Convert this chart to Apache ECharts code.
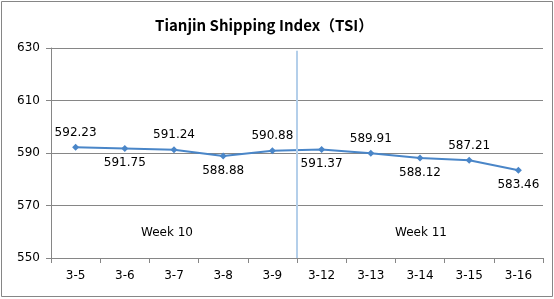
<!DOCTYPE html>
<html><head><meta charset="utf-8">
<script src="https://cdn.jsdelivr.net/npm/echarts@6/dist/echarts.min.js"></script>
<style>html,body{margin:0;padding:0;background:#fff}#c{width:554px;height:299px}</style>
</head><body><div id="c"></div>
<script>
const categories = ['3-5','3-6','3-7','3-8','3-9','3-12','3-13','3-14','3-15','3-16'];
const tsiValues = [592.23, 591.75, 591.24, 588.88, 590.88, 591.37, 589.91, 588.12, 587.21, 583.46];
const yTicks = [550, 570, 590, 610, 630];
const weekLabels = ['Week 10', 'Week 11'];
const weekDivider = 5; // boundary index between week 10 and week 11
const titleText = 'Tianjin Shipping Index（TSI）';

const chart = echarts.init(document.getElementById('c'));
const font = 'DejaVu Sans';
chart.setOption({
  animation: false,
  title: { text: titleText, left: 150, top: 13,
    textStyle: { fontFamily: 'Noto Sans CJK SC', fontWeight: 'bold', fontSize: 15, color: '#000' } },
  grid: { left: 51, right: 11, top: 48, bottom: 41 },
  xAxis: [{ type: 'category', data: categories, boundaryGap: true,
    axisLine: { lineStyle: { color: '#868686', width: 1 } },
    axisTick: { show: true, length: 5, lineStyle: { color: '#868686' } },
    axisLabel: { fontFamily: font, fontSize: 12, color: '#000', margin: 12 } },
    { type: 'value', min: 0, max: categories.length, show: false }],
  yAxis: { type: 'value', min: yTicks[0], max: yTicks[yTicks.length-1], interval: 20,
    axisLine: { show: true, lineStyle: { color: '#868686' } },
    axisTick: { show: true, length: 5, lineStyle: { color: '#868686' } },
    splitLine: { lineStyle: { color: '#868686', width: 1 } },
    axisLabel: { fontFamily: font, fontSize: 12, color: '#000', margin: 11 } },
  series: [{
    type: 'line', data: tsiValues.map((v, i) => ({ value: v,
      label: { position: i % 2 === 0 ? 'top' : 'bottom' } })),
    symbol: 'diamond', symbolSize: 7,
    itemStyle: { color: '#4A86C8' }, lineStyle: { color: '#4A86C8', width: 2 },
    label: { show: true, fontFamily: font, fontSize: 12, color: '#000', distance: 5,
      formatter: p => p.value.toFixed(2) }
  }, {
    type: 'line', xAxisIndex: 1, data: [],
    markLine: { silent: true, symbol: 'none', label: { show: false },
      lineStyle: { color: '#B4CFEA', width: 2, type: 'solid' },
      data: [[{ coord: [weekDivider, yTicks[0]] }, { coord: [weekDivider, 629] }]] }
  }],
  graphic: [
    { type: 'rect', shape: { x: 1.5, y: 1.5, width: 551, height: 295 },
      style: { fill: 'none', stroke: '#868686', lineWidth: 1 }, z: 100 },
    { type: 'text', left: 141, top: 227,
      style: { text: weekLabels[0], fontFamily: font, fontSize: 12, fill: '#000' } },
    { type: 'text', left: 395, top: 227,
      style: { text: weekLabels[1], fontFamily: font, fontSize: 12, fill: '#000' } }
  ]
});
</script></body></html>
